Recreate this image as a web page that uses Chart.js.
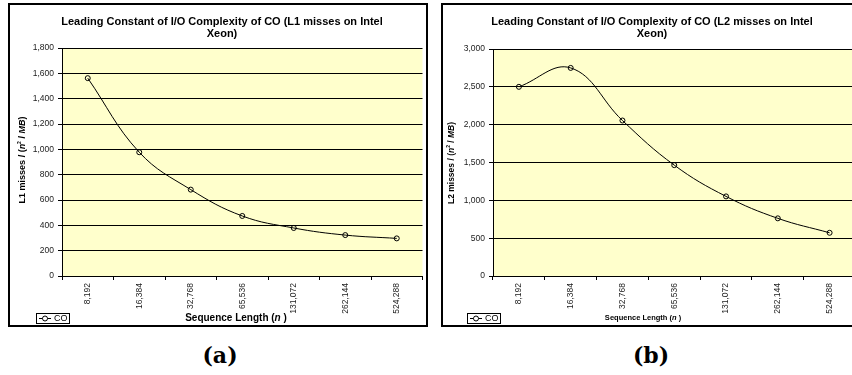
<!DOCTYPE html>
<html>
<head>
<meta charset="utf-8">
<script src="https://cdn.jsdelivr.net/npm/chart.js@4.4.1/dist/chart.umd.min.js"></script>
<style>
    body {
        margin: 0;
        width: 852px;
        height: 375px;
        overflow: hidden;
        position: relative;
        background: #fff;
    }
    .panel {
        position: absolute;
        top: 3px;
        width: 416px;
        height: 320px;
        border: 2px solid #000;
        background: #fff;
    }
    .panel canvas {
        display: block;
    }
    #panelA {
        left: 8px;
    }
    #panelB {
        left: 441px;
    }
    .caption {
        position: absolute;
        top: 342px;
        line-height: 26px;
        font: bold 22px "DejaVu Serif", serif;
        transform: translateX(-50%);
    }
</style>
</head>
<body>
<div class="panel" id="panelA"><canvas id="chartA" width="416" height="320"></canvas></div>
<div class="panel" id="panelB"><canvas id="chartB" width="416" height="320"></canvas></div>
<div class="caption" style="left:220px">(a)</div>
<div class="caption" style="left:651px">(b)</div>

<script>
const seqLengths = ["8,192", "16,384", "32,768", "65,536", "131,072", "262,144", "524,288"];

const l1Misses = [1562, 977, 682, 474, 379, 323, 297];

const l2Misses = [2500, 2750, 2055, 1465, 1052, 762, 571];

const l1Range = [0, 1800, 200];

const l2Range = [0, 3000, 500];

const seriesName = "CO";

const FONT = '"Liberation Sans", Arial, sans-serif';

// draw text made of several font runs, centred on (x, y)
function drawRich(ctx, parts, x, y, angle) {
    ctx.save();
    ctx.translate(x, y);
    ctx.rotate(angle || 0);
    ctx.fillStyle = '#000';
    ctx.textAlign = 'left';
    ctx.textBaseline = 'alphabetic';
    let w = 0;
    parts.forEach(p => {
        ctx.font = p.font;
        p.w = ctx.measureText(p.text).width;
        w += p.w;
    });
    let cx = -w / 2;
    parts.forEach(p => {
        ctx.font = p.font;
        ctx.fillText(p.text, cx, p.rise || 0);
        cx += p.w;
    });
    ctx.restore();
}

function axisTitleParts(prefix, size) {
    const b = 'bold ' + size + 'px ' + FONT;
    const bi = 'italic bold ' + size + 'px ' + FONT;
    const sup = 'bold ' + Math.round(size * 0.6) + 'px ' + FONT;
    return [
        {text: prefix + ' / (', font: b},
        {text: 'n', font: bi},
        {text: '2', font: sup, rise: -Math.round(size * 0.45)},
        {text: ' / ', font: b},
        {text: 'MB', font: bi},
        {text: ')', font: b}
    ];
}

function xTitleParts(size) {
    const b = 'bold ' + size + 'px ' + FONT;
    const bi = 'italic bold ' + size + 'px ' + FONT;
    return [
        {text: 'Sequence Length (', font: b},
        {text: 'n ', font: bi},
        {text: ')', font: b}
    ];
}

const excelDecor = {
    id: 'excelDecor',
    beforeDraw(chart, args, o) {
        const a = chart.chartArea;
        const ctx = chart.ctx;
        ctx.save();
        ctx.fillStyle = '#FFFFCC';
        ctx.fillRect(a.left, a.top, a.right - a.left, a.bottom - a.top);
        ctx.restore();
    },
    afterDraw(chart, args, o) {
        const ctx = chart.ctx;

        ctx.save();
        ctx.fillStyle = '#000';
        ctx.font = 'bold 11px ' + FONT;
        ctx.textAlign = 'center';
        ctx.textBaseline = 'alphabetic';
        o.title.forEach((line, i) => {
            ctx.fillText(line, o.titleX, 20 + i * 12);
        });
        ctx.restore();

        drawRich(ctx, o.yTitle, o.yTitleX, o.yTitleY, -Math.PI / 2);
        drawRich(ctx, o.xTitle, o.xTitleX, o.xTitleY, 0);

        // legend box
        const ds = chart.data.datasets[0];
        const bx = o.legendX, by = 308, bw = 33, bh = 10;
        ctx.save();
        ctx.strokeStyle = '#000';
        ctx.lineWidth = 1;
        ctx.strokeRect(bx + 0.5, by + 0.5, bw, bh);
        const my = by + bh / 2 + 0.5;
        ctx.beginPath();
        ctx.moveTo(bx + 3, my);
        ctx.lineTo(bx + 15, my);
        ctx.stroke();
        ctx.beginPath();
        ctx.arc(bx + 9, my, 2.5, 0, Math.PI * 2);
        ctx.fillStyle = '#fff';
        ctx.fill();
        ctx.stroke();
        ctx.fillStyle = '#000';
        ctx.font = '9px ' + FONT;
        ctx.textBaseline = 'middle';
        ctx.fillText(ds.label, bx + 18, my + 0.5);
        ctx.restore();
    }
};

function makeChart(id, values, range, cfg) {
    return new Chart(document.getElementById(id), {
        type: 'line',
        data: {
            labels: seqLengths,
            datasets: [{
                    label: seriesName,
                    data: values,
                    borderColor: '#000',
                    borderWidth: 1,
                    tension: 0.4,
                    pointRadius: 2.5,
                    pointHoverRadius: 2.5,
                    pointBorderWidth: 1,
                    pointBorderColor: '#000',
                    pointBackgroundColor: 'rgba(0,0,0,0)'
                }]
        },
        options: {
            responsive: false,
            animation: false,
            events: [],
            layout: {
                padding: {top: cfg.padTop, right: 3, left: 0, bottom: 0}
            },
            plugins: {
                legend: {display: false},
                title: {display: false},
                tooltip: {enabled: false},
                excelDecor: cfg.decor
            },
            scales: {
                x: {
                    offset: true,
                    afterFit: (scale) => {
                        scale.height = 49;
                    },
                    grid: {
                        display: true,
                        offset: true,
                        drawOnChartArea: false,
                        drawTicks: true,
                        tickLength: 4,
                        color: '#000'
                    },
                    border: {color: '#000'},
                    ticks: {
                        autoSkip: false,
                        minRotation: 90,
                        maxRotation: 90,
                        padding: 3,
                        color: '#222',
                        font: {family: FONT, size: 8.5}
                    }
                },
                y: {
                    min: range[0],
                    max: range[1],
                    afterFit: (scale) => {
                        scale.width = cfg.yWidth;
                    },
                    grid: {
                        color: '#000',
                        lineWidth: 1,
                        drawTicks: true,
                        tickLength: 4
                    },
                    border: {color: '#000'},
                    ticks: {
                        stepSize: range[2],
                        padding: 4,
                        color: '#222',
                        font: {family: FONT, size: 8.5},
                        callback: (v) => v.toLocaleString('en-US')
                    }
                }
            }
        },
        plugins: [excelDecor]
    });
}

makeChart('chartA', l1Misses, l1Range, {
    padTop: 43,
    yWidth: 52,
    decor: {
        title: ['Leading Constant of I/O Complexity of CO (L1 misses on Intel', 'Xeon)'],
        titleX: 212,
        yTitle: axisTitleParts('L1 misses', 9),
        yTitleX: 15,
        yTitleY: 155,
        xTitle: xTitleParts(10),
        xTitleX: 226,
        xTitleY: 316,
        legendX: 26
    }
});

makeChart('chartB', l2Misses, l2Range, {
    padTop: 44,
    yWidth: 50,
    decor: {
        title: ['Leading Constant of I/O Complexity of CO (L2 misses on Intel', 'Xeon)'],
        titleX: 209,
        yTitle: axisTitleParts('L2 misses', 8.5),
        yTitleX: 11,
        yTitleY: 158,
        xTitle: xTitleParts(7.5),
        xTitleX: 200,
        xTitleY: 315,
        legendX: 24
    }
});
</script>
</body>
</html>
